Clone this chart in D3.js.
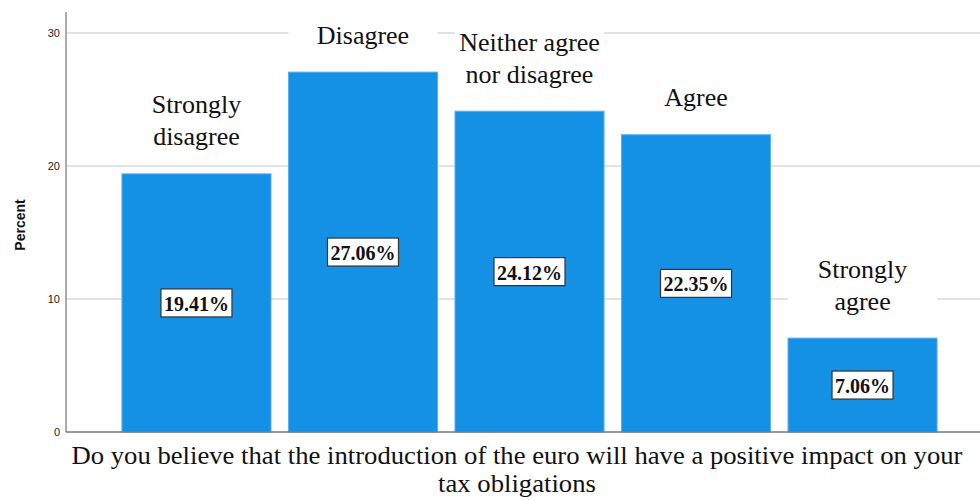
<!DOCTYPE html>
<html><head><meta charset="utf-8">
<script src="https://cdn.jsdelivr.net/npm/d3@7/dist/d3.min.js"></script>
<style>
html,body{margin:0;padding:0;background:#fff;}
svg{display:block;}
</style></head>
<body>
<svg id="chart" width="980" height="500"></svg>
<script>
const categories = [["Strongly","disagree"],["Disagree"],["Neither agree","nor disagree"],["Agree"],["Strongly","agree"]];
const values = [19.41, 27.06, 24.12, 22.35, 7.06];
const valueLabels = ["19.41%","27.06%","24.12%","22.35%","7.06%"];
const yTicks = [0, 10, 20, 30];
const xTitle = ["Do you believe that the introduction of the euro will have a positive impact on your","tax obligations"];
const yTitle = "Percent";

(function(){
const svg = d3.select("#chart");
const W = 980, left = 66, baseline = 432, plotTop = 12;
const ids = categories.map((c,i)=>i);

const x = d3.scaleBand().domain(ids).range([left, 993]).paddingInner(0.105).paddingOuter(0.336);
const y = d3.scaleLinear().domain([0, 31.58]).range([baseline, plotTop]);

// gridlines
svg.append("g").selectAll("line").data(yTicks.filter(t=>t>0)).join("line")
  .attr("x1", left).attr("x2", W).attr("y1", d=>y(d)).attr("y2", d=>y(d))
  .attr("stroke", "#d9d9d9").attr("stroke-width", 1.5);

// bars
svg.append("g").selectAll("rect").data(values).join("rect")
  .attr("x", (d,i)=>x(i)).attr("width", x.bandwidth())
  .attr("y", d=>y(d)).attr("height", d=>baseline - y(d))
  .attr("fill", "#1490e5").attr("stroke", "#5aaef0").attr("stroke-width", 1);

// category labels with white backgrounds
const serif = "'Liberation Serif','Times New Roman',serif";
const catG = svg.append("g");
categories.forEach((lines, i) => {
  const cx = x(i) + x.bandwidth()/2;
  const lastCenter = y(values[i]) - 37;
  const lh = 32;
  const firstCenter = lastCenter - (lines.length-1)*lh;
  const boxTop = firstCenter - 18, boxBot = lastCenter + 18;
  catG.append("rect").attr("x", x(i)).attr("width", x.bandwidth())
    .attr("y", boxTop).attr("height", boxBot - boxTop).attr("fill", "#fff");
  lines.forEach((t, k) => {
    catG.append("text").attr("x", cx).attr("y", firstCenter + k*lh)
      .attr("text-anchor", "middle").attr("dominant-baseline", "central")
      .style("font-family", serif).style("font-size", "26px").attr("fill", "#111")
      .text(t);
  });
});

// value labels
const valG = svg.append("g");
values.forEach((v, i) => {
  const cx = x(i) + x.bandwidth()/2;
  const cy = (y(v) + baseline) / 2;
  const t = valG.append("text").attr("x", cx).attr("y", cy + 1)
    .attr("text-anchor", "middle").attr("dominant-baseline", "central")
    .style("font-family", serif).style("font-size", "20px").style("font-weight", "bold")
    .attr("fill", "#111").text(valueLabels[i]);
  const bb = t.node().getBBox();
  valG.insert("rect", "text").attr("x", cx - bb.width/2 - 3).attr("y", cy - 14)
    .attr("width", bb.width + 6).attr("height", 28)
    .attr("fill", "#fff").attr("stroke", "#333").attr("stroke-width", 1.2);
});

// axes
svg.append("line").attr("x1", left).attr("x2", left).attr("y1", plotTop).attr("y2", baseline)
  .attr("stroke", "#aaa").attr("stroke-width", 2);
svg.append("line").attr("x1", left).attr("x2", W).attr("y1", baseline).attr("y2", baseline)
  .attr("stroke", "#777").attr("stroke-width", 1.5);

const yAxis = d3.axisLeft(y).tickValues(yTicks).tickSize(0).tickPadding(6);
const ya = svg.append("g").attr("transform", `translate(${left},0)`).call(yAxis);
ya.select(".domain").remove();
ya.selectAll("text").style("font-family", "Arial, 'Liberation Sans', sans-serif").style("font-size", "11px").attr("fill", "#222");

svg.append("text").attr("transform", `translate(25,225) rotate(-90)`)
  .attr("text-anchor", "middle")
  .style("font-family", "Arial, 'Liberation Sans', sans-serif").style("font-size", "14px").style("font-weight", "bold")
  .attr("fill", "#111").text(yTitle);

const titleTexts = xTitle.map((t, k) =>
  svg.append("text").attr("x", 517).attr("y", 464 + k*28)
    .attr("text-anchor", "middle")
    .style("font-family", serif).style("font-size", "25px").attr("fill", "#111").text(t));
const ratio = 891 / titleTexts[0].node().getComputedTextLength();
titleTexts.forEach(t => {
  const w = t.node().getComputedTextLength();
  t.attr("textLength", w * ratio).attr("lengthAdjust", "spacingAndGlyphs");
});
})();
</script>
</body></html>
